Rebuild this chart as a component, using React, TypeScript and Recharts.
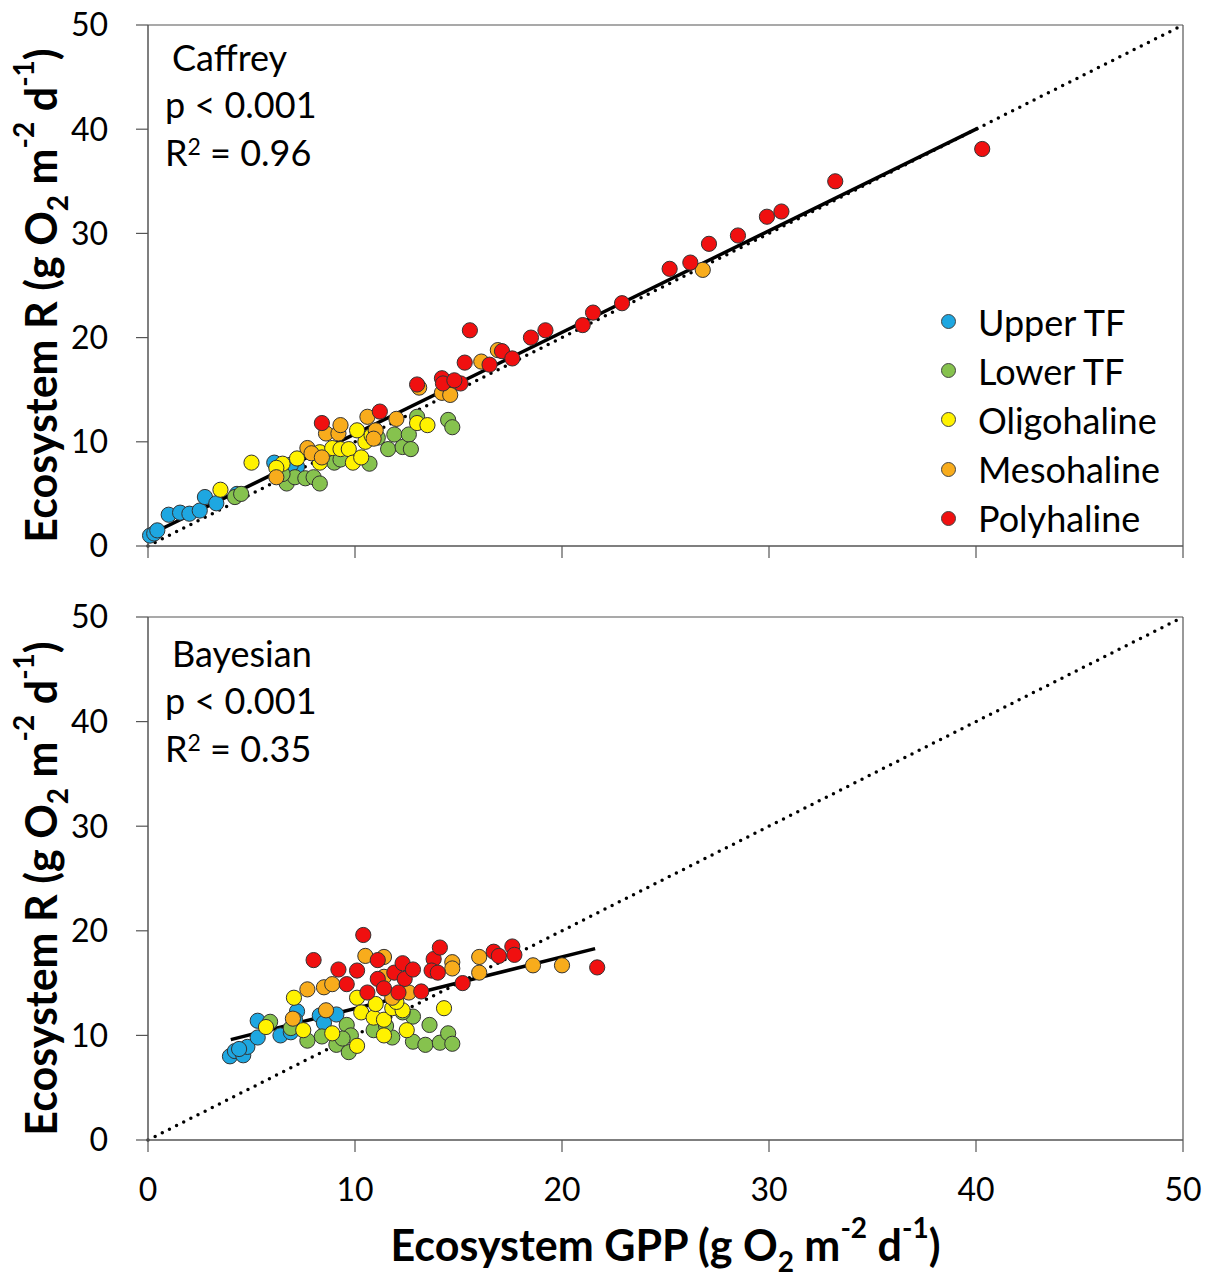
import React from "react";
import {
  ScatterChart,
  Scatter,
  XAxis,
  YAxis,
  ReferenceLine,
} from "recharts";

type Pt = { x: number; y: number };

const TICKS = [0, 10, 20, 30, 40, 50];

const SITES = ["Upper TF", "Lower TF", "Oligohaline", "Mesohaline", "Polyhaline"];
const COLORS = ["#1EA7E1", "#86C24E", "#FFF200", "#F8AC1C", "#F01010"];

// Caffrey panel
const caffreyUpper: Pt[] = [
  { x: 0.1, y: 1.0 }, { x: 0.3, y: 1.2 }, { x: 0.45, y: 1.5 }, { x: 1.0, y: 3.0 },
  { x: 1.55, y: 3.2 }, { x: 2.0, y: 3.1 }, { x: 2.5, y: 3.4 }, { x: 2.75, y: 4.7 },
  { x: 3.3, y: 4.1 }, { x: 4.3, y: 5.0 }, { x: 6.1, y: 8.0 }, { x: 6.7, y: 7.3 },
  { x: 7.2, y: 7.6 }, { x: 6.9, y: 7.8 },
];
const caffreyLower: Pt[] = [
  { x: 4.2, y: 4.7 }, { x: 4.5, y: 5.0 }, { x: 6.7, y: 6.0 }, { x: 7.1, y: 6.6 },
  { x: 7.6, y: 6.5 }, { x: 8.0, y: 6.6 }, { x: 8.3, y: 6.0 }, { x: 9.0, y: 8.0 },
  { x: 9.3, y: 8.3 }, { x: 10.7, y: 7.9 }, { x: 11.1, y: 10.4 }, { x: 11.6, y: 9.3 },
  { x: 11.9, y: 10.7 }, { x: 12.3, y: 9.5 }, { x: 12.6, y: 10.7 }, { x: 12.7, y: 9.3 },
  { x: 13.0, y: 12.4 }, { x: 14.5, y: 12.1 }, { x: 14.7, y: 11.4 }, { x: 6.5, y: 6.9 },
];
const caffreyOligo: Pt[] = [
  { x: 3.5, y: 5.4 }, { x: 5.0, y: 8.0 }, { x: 6.5, y: 7.9 }, { x: 7.2, y: 8.4 },
  { x: 8.3, y: 8.0 }, { x: 8.3, y: 9.0 }, { x: 8.9, y: 9.4 }, { x: 9.3, y: 9.3 },
  { x: 9.7, y: 9.3 }, { x: 9.9, y: 8.0 }, { x: 10.3, y: 8.5 }, { x: 10.5, y: 10.0 },
  { x: 10.1, y: 11.1 }, { x: 13.0, y: 11.8 }, { x: 13.5, y: 11.6 }, { x: 6.2, y: 7.5 },
  { x: 10.8, y: 10.6 },
];
const caffreyMeso: Pt[] = [
  { x: 6.2, y: 6.6 }, { x: 7.7, y: 9.4 }, { x: 7.9, y: 8.9 }, { x: 8.4, y: 8.5 },
  { x: 8.6, y: 10.8 }, { x: 9.2, y: 10.8 }, { x: 9.3, y: 11.6 }, { x: 10.6, y: 12.4 },
  { x: 11.0, y: 11.1 }, { x: 12.0, y: 12.2 }, { x: 13.1, y: 15.2 }, { x: 14.2, y: 14.7 },
  { x: 14.6, y: 14.5 }, { x: 16.1, y: 17.7 }, { x: 16.9, y: 18.8 }, { x: 26.8, y: 26.5 },
  { x: 10.9, y: 10.3 },
];
const caffreyPoly: Pt[] = [
  { x: 8.4, y: 11.8 }, { x: 11.2, y: 12.9 }, { x: 13.0, y: 15.5 }, { x: 14.2, y: 16.1 },
  { x: 14.25, y: 15.6 }, { x: 15.1, y: 15.6 }, { x: 15.3, y: 17.6 }, { x: 15.55, y: 20.7 },
  { x: 16.5, y: 17.4 }, { x: 17.1, y: 18.7 }, { x: 17.6, y: 18.0 }, { x: 18.5, y: 20.0 },
  { x: 19.2, y: 20.7 }, { x: 21.0, y: 21.2 }, { x: 21.5, y: 22.4 }, { x: 22.9, y: 23.3 },
  { x: 25.2, y: 26.6 }, { x: 26.2, y: 27.2 }, { x: 27.1, y: 29.0 }, { x: 28.5, y: 29.8 },
  { x: 29.9, y: 31.6 }, { x: 30.6, y: 32.1 }, { x: 33.2, y: 35.0 }, { x: 40.3, y: 38.1 },
  { x: 14.8, y: 15.9 },
];

// Bayesian panel
const bayesUpper: Pt[] = [
  { x: 3.96, y: 8.0 }, { x: 4.2, y: 8.5 }, { x: 4.6, y: 8.1 }, { x: 4.8, y: 8.9 },
  { x: 5.3, y: 11.4 }, { x: 5.3, y: 9.8 }, { x: 6.4, y: 10.0 }, { x: 6.9, y: 10.3 },
  { x: 7.2, y: 12.3 }, { x: 7.1, y: 11.5 }, { x: 8.3, y: 11.9 }, { x: 8.5, y: 11.2 },
  { x: 9.1, y: 12.0 }, { x: 4.4, y: 8.7 },
];
const bayesLower: Pt[] = [
  { x: 5.9, y: 11.3 }, { x: 6.9, y: 10.7 }, { x: 7.7, y: 9.5 }, { x: 8.4, y: 9.9 },
  { x: 9.1, y: 9.1 }, { x: 9.7, y: 8.4 }, { x: 9.6, y: 11.0 }, { x: 9.8, y: 10.0 },
  { x: 10.9, y: 10.5 }, { x: 11.8, y: 9.8 }, { x: 12.8, y: 11.8 }, { x: 12.8, y: 9.4 },
  { x: 13.4, y: 9.1 }, { x: 13.6, y: 11.0 }, { x: 14.1, y: 9.3 }, { x: 14.5, y: 10.2 },
  { x: 14.7, y: 9.2 }, { x: 12.3, y: 12.2 }, { x: 9.4, y: 9.7 }, { x: 11.5, y: 10.9 },
];
const bayesOligo: Pt[] = [
  { x: 7.05, y: 13.6 }, { x: 5.7, y: 10.8 }, { x: 7.5, y: 10.5 }, { x: 8.9, y: 10.2 },
  { x: 10.1, y: 9.0 }, { x: 10.1, y: 13.6 }, { x: 10.3, y: 12.2 }, { x: 10.9, y: 11.7 },
  { x: 11.4, y: 11.5 }, { x: 11.4, y: 10.0 }, { x: 11.8, y: 12.6 }, { x: 12.3, y: 12.4 },
  { x: 12.5, y: 10.5 }, { x: 14.3, y: 12.6 }, { x: 11.0, y: 13.0 }, { x: 12.0, y: 13.2 },
];
const bayesMeso: Pt[] = [
  { x: 7.7, y: 14.4 }, { x: 8.5, y: 14.6 }, { x: 8.9, y: 14.9 }, { x: 7.0, y: 11.6 },
  { x: 8.6, y: 12.4 }, { x: 10.5, y: 17.6 }, { x: 11.4, y: 17.5 }, { x: 14.7, y: 17.0 },
  { x: 14.7, y: 16.4 }, { x: 16.0, y: 17.5 }, { x: 16.0, y: 16.0 }, { x: 11.4, y: 15.6 },
  { x: 12.6, y: 14.1 }, { x: 18.6, y: 16.7 }, { x: 20.0, y: 16.7 }, { x: 11.8, y: 13.6 },
];
const bayesPoly: Pt[] = [
  { x: 8.0, y: 17.2 }, { x: 10.4, y: 19.6 }, { x: 9.2, y: 16.3 }, { x: 10.1, y: 16.2 },
  { x: 9.6, y: 14.9 }, { x: 11.1, y: 17.2 }, { x: 11.1, y: 15.4 }, { x: 11.4, y: 14.5 },
  { x: 10.6, y: 14.1 }, { x: 11.9, y: 16.0 }, { x: 12.3, y: 16.9 }, { x: 12.4, y: 15.4 },
  { x: 12.8, y: 16.3 }, { x: 12.1, y: 14.1 }, { x: 13.2, y: 14.2 }, { x: 13.8, y: 17.3 },
  { x: 13.7, y: 16.2 }, { x: 14.0, y: 16.0 }, { x: 14.1, y: 18.4 }, { x: 15.2, y: 15.0 },
  { x: 16.7, y: 18.0 }, { x: 16.95, y: 17.6 }, { x: 17.6, y: 18.5 }, { x: 17.7, y: 17.7 },
  { x: 21.7, y: 16.5 },
];

const oneToOne: Pt[] = [{ x: 0, y: 0 }, { x: 50, y: 50 }];
const caffreyFit: Pt[] = [{ x: 0.3, y: 1.3 }, { x: 40.1, y: 40.1 }];
const bayesFit: Pt[] = [{ x: 4.0, y: 9.6 }, { x: 21.6, y: 18.3 }];

const caffreySeries = [caffreyUpper, caffreyLower, caffreyOligo, caffreyMeso, caffreyPoly];
const bayesSeries = [bayesUpper, bayesLower, bayesOligo, bayesMeso, bayesPoly];

const FONT = "Lato, 'Open Sans', sans-serif";
const AXIS = "#555";
const W = 1214;

function YTitle(props: any) {
  const { viewBox } = props;
  const cx = 40;
  const cy = viewBox.y + viewBox.height / 2 + 10;
  return (
    <text
      x={cx}
      y={cy}
      transform={`rotate(-90, ${cx}, ${cy})`}
      textAnchor="middle"
      dominantBaseline="central"
      fontFamily={FONT}
      fontWeight={700}
      fontSize={43}
      fill="#000"
    >
      Ecosystem R (g O<tspan baselineShift="sub" fontSize={28}>2</tspan> m
      <tspan baselineShift="super" fontSize={28}>-2</tspan> d
      <tspan baselineShift="super" fontSize={28}>-1</tspan>)
    </text>
  );
}

function XTitle(props: any) {
  const { viewBox } = props;
  const cx = viewBox.x + viewBox.width / 2;
  return (
    <text
      x={cx}
      y={664}
      textAnchor="middle"
      dominantBaseline="central"
      fontFamily={FONT}
      fontWeight={700}
      fontSize={43}
      fill="#000"
    >
      Ecosystem GPP (g O<tspan baselineShift="sub" fontSize={28}>2</tspan> m
      <tspan baselineShift="super" fontSize={28}>-2</tspan> d
      <tspan baselineShift="super" fontSize={28}>-1</tspan>)
    </text>
  );
}

function Dot(props: any) {
  const { cx, cy, fill } = props;
  return <circle cx={cx} cy={cy} r={7.6} fill={fill} stroke="#333" strokeWidth={1} />;
}

const tickStyle = { fontFamily: FONT, fontSize: 32, fill: "#000" };

function Panel({
  series,
  fit,
  height,
  margin,
  xHeight,
  showXLabels,
}: {
  series: Pt[][];
  fit: Pt[];
  height: number;
  margin: { top: number; right: number; bottom: number; left: number };
  xHeight: number;
  showXLabels: boolean;
}) {
  return (
    <ScatterChart width={W} height={height} margin={margin}>
      <XAxis
        type="number"
        dataKey="x"
        domain={[0, 50]}
        ticks={TICKS}
        interval={0}
        height={xHeight}
        tickSize={12}
        tickMargin={26}
        tickFormatter={(v) => (showXLabels ? String(v) : "")}
        tick={tickStyle}
        axisLine={{ stroke: AXIS, strokeWidth: 1.5 }}
        tickLine={{ stroke: AXIS, strokeWidth: 1.2 }}
        label={showXLabels ? <XTitle /> : undefined}
      />
      <YAxis
        type="number"
        dataKey="y"
        domain={[0, 50]}
        ticks={TICKS}
        interval={0}
        width={148}
        tickSize={12}
        tickMargin={28}
        tick={tickStyle}
        axisLine={{ stroke: AXIS, strokeWidth: 1.5 }}
        tickLine={{ stroke: AXIS, strokeWidth: 1.2 }}
        label={<YTitle />}
      />
      <ReferenceLine y={50} stroke={AXIS} strokeWidth={1.2} />
      <ReferenceLine x={50} stroke={AXIS} strokeWidth={1.2} />
      {series.map((data, i) => (
        <Scatter
          key={SITES[i]}
          name={SITES[i]}
          data={data}
          fill={COLORS[i]}
          shape={<Dot />}
          isAnimationActive={false}
        />
      ))}
      <ReferenceLine
        segment={oneToOne}
        stroke="#000"
        strokeWidth={3.5}
        strokeDasharray="0 8"
        strokeLinecap="round"
      />
      <ReferenceLine segment={fit} stroke="#000" strokeWidth={3.5} />
    </ScatterChart>
  );
}

function Stats({ top, title, r2 }: { top: number; title: string; r2: string }) {
  const line = {
    position: "absolute" as const,
    left: 165,
    height: 48,
    lineHeight: "48px",
    whiteSpace: "nowrap" as const,
  };
  return (
    <div style={{ position: "absolute", left: 0, top, fontFamily: FONT, fontSize: 36, color: "#000" }}>
      <div style={{ ...line, left: 172, top: 0 }}>{title}</div>
      <div style={{ ...line, top: 47 }}>p &lt; 0.001</div>
      <div style={{ ...line, top: 95 }}>
        R<sup style={{ fontSize: 23, verticalAlign: "top", lineHeight: "36px" }}>2</sup> = {r2}
      </div>
    </div>
  );
}

function SiteLegend() {
  return (
    <div style={{ position: "absolute", left: 941, top: 297, fontFamily: FONT, fontSize: 36, color: "#000" }}>
      {SITES.map((s, i) => (
        <div key={s} style={{ display: "flex", alignItems: "center", height: 49.2 }}>
          <span
            style={{
              width: 13,
              height: 13,
              borderRadius: "50%",
              background: COLORS[i],
              border: "1px solid #444",
              marginRight: 22,
              display: "inline-block",
            }}
          />
          <span>{s}</span>
        </div>
      ))}
    </div>
  );
}

export default function App() {
  return (
    <div style={{ position: "absolute", left: 0, top: 0, width: W, height: 1279, background: "#fff" }}>
      <div style={{ position: "absolute", left: 0, top: 0 }}>
        <Panel
          series={caffreySeries}
          fit={caffreyFit}
          height={580}
          margin={{ top: 25, right: 31, bottom: 14, left: 0 }}
          xHeight={20}
          showXLabels={false}
        />
      </div>
      <div style={{ position: "absolute", left: 0, top: 580 }}>
        <Panel
          series={bayesSeries}
          fit={bayesFit}
          height={699}
          margin={{ top: 37, right: 31, bottom: 9, left: 0 }}
          xHeight={130}
          showXLabels={true}
        />
      </div>
      <Stats top={33} title="Caffrey" r2="0.96" />
      <Stats top={629} title="Bayesian" r2="0.35" />
      <SiteLegend />
    </div>
  );
}
